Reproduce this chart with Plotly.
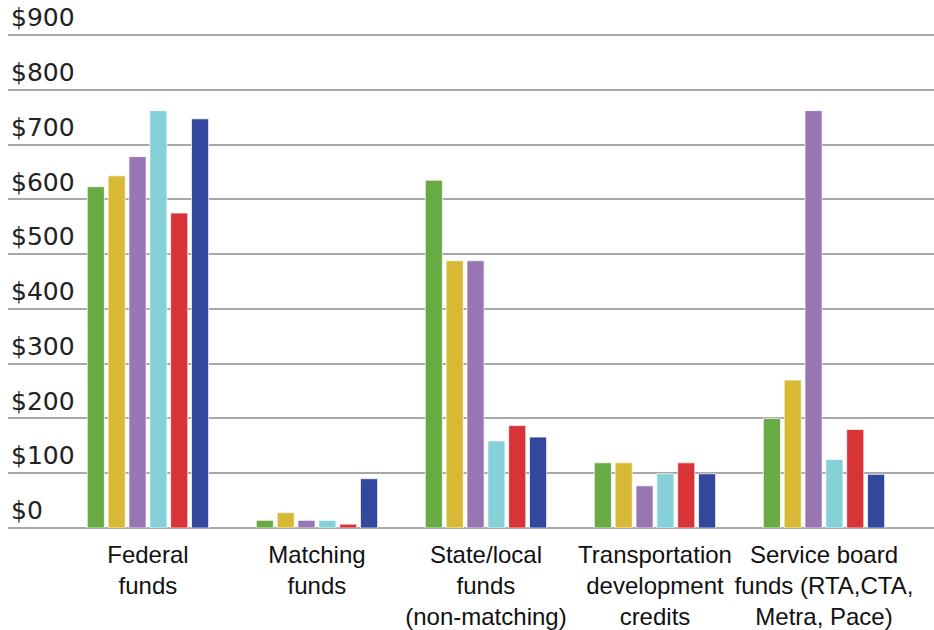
import plotly.graph_objects as go

categories = ["Federal<br>funds", "Matching<br>funds", "State/local<br>funds<br>(non-matching)",
              "Transportation<br>development<br>credits", "Service board<br>funds (RTA,CTA,<br>Metra, Pace)"]
series_names = ["Series 1", "Series 2", "Series 3", "Series 4", "Series 5", "Series 6"]
series_values = [
    [623, 14, 635, 119, 200],
    [643, 28, 488, 119, 270],
    [678, 14, 488, 77, 762],
    [762, 14, 159, 99, 125],
    [575, 7, 187, 119, 180],
    [747, 90, 166, 99, 98],
]
colors = ["#68aa44", "#d7b935", "#9875b3", "#86d0d8", "#d83438", "#33489c"]
y_ticks = [0, 100, 200, 300, 400, 500, 600, 700, 800, 900]
y_tick_labels = ["$0", "$100", "$200", "$300", "$400", "$500", "$600", "$700", "$800", "$900"]

fig = go.Figure()
for name, vals, c in zip(series_names, series_values, colors):
    fig.add_trace(go.Bar(x=categories, y=vals, name=name,
                         marker=dict(color=c, line=dict(color="rgba(255,255,255,0.7)", width=1))))

fig.update_layout(
    width=934, height=630,
    margin=dict(l=8, r=0, t=0, b=102, pad=0),
    paper_bgcolor="white", plot_bgcolor="white",
    barmode="group", bargap=0.26, bargroupgap=0.18,
    showlegend=False,
    font=dict(family="DejaVu Sans", color="#222"),
)
fig.update_yaxes(
    range=[0, 964], tickvals=y_ticks, ticktext=y_tick_labels,
    ticklabelposition="inside top", automargin=False,
    tickfont=dict(size=25, family="DejaVu Sans", color="#222"),
    showgrid=True, gridcolor="#a8a8a8", gridwidth=1.5,
    zeroline=True, zerolinecolor="#a8a8a8", zerolinewidth=1.5,
    showline=False, ticks="",
)
fig.update_xaxes(
    range=[-0.828, 4.651], automargin=False,
    tickfont=dict(size=24, family="Liberation Sans Narrow, Liberation Sans", color="#111"),
    ticks="", showline=False, tickangle=0, ticklabelstandoff=10,
)
fig.write_html("out.html", config={"displayModeBar": False},
               post_script="document.body.style.margin='0';document.body.style.overflow='hidden';")
